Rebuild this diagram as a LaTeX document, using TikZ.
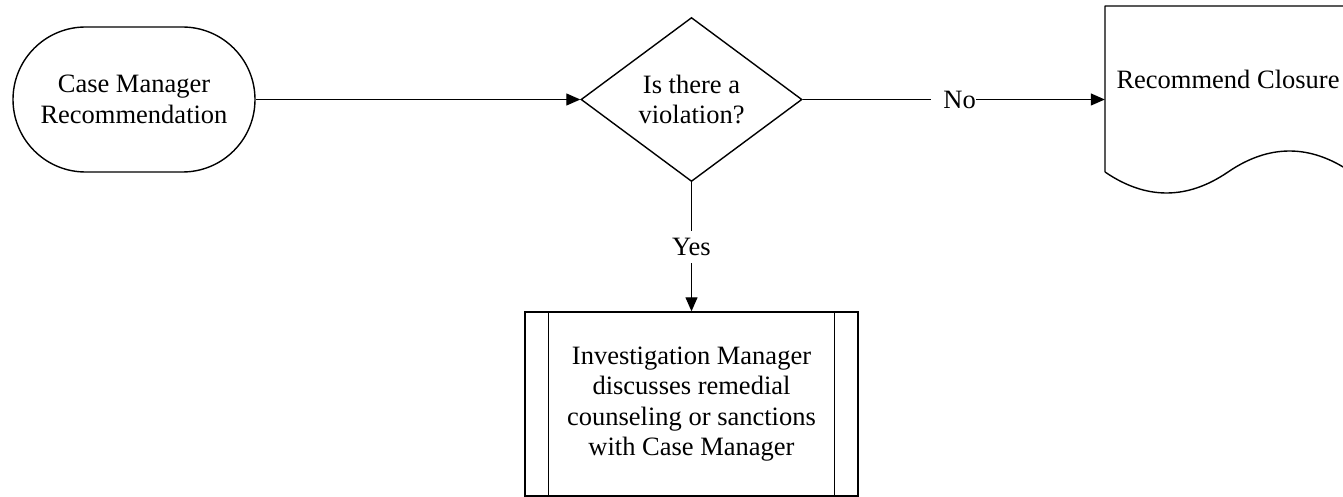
\documentclass[tikz,border=0pt]{standalone}
\usepackage{fontspec}
\setmainfont{Liberation Serif}
\usetikzlibrary{shapes.geometric,shapes.misc,arrows.meta}
\begin{document}
\begin{tikzpicture}[x=1pt,y=-1pt,
  every node/.style={font=\fontsize{26.5}{30.5}\selectfont, align=center},
  shapeline/.style={draw=black, line width=1.4pt},
  flow/.style={line width=1.2pt, -{Triangle[length=14pt,width=12pt]}},
  plain/.style={line width=1.2pt},
  term/.style={shapeline, rounded rectangle, minimum width=242pt, minimum height=145pt, inner sep=0pt},
  decision/.style={shapeline, diamond, aspect=1.35, minimum width=221pt, minimum height=164pt, inner sep=0pt},
  predef/.style={shapeline, rectangle, minimum width=333pt, minimum height=184pt, inner sep=0pt},
  lbl/.style={fill=white, inner ysep=7pt}
]
\useasboundingbox (0,0) rectangle (1343,497);

\node[term] (start) at (134,99.5) {Case Manager\\Recommendation};
\node[decision] (dia) at (691.5,99.5) {Is there a\\violation?};
\node[predef] (proc) at (691.5,404) {Investigation Manager\\discusses remedial\\counseling or sanctions\\with Case Manager};
\draw[shapeline] ([xshift=24pt]proc.north west) -- ([xshift=24pt]proc.south west);
\draw[shapeline] ([xshift=-24pt]proc.north east) -- ([xshift=-24pt]proc.south east);

% document shape
\node[minimum width=246pt, inner sep=0pt] (doc) at (1228,79) {Recommend Closure};
\draw[shapeline, line join=round] (1105,172) -- (1105,6) -- (1351,6) -- (1351,172)
  .. controls (1310,144) and (1269,144) .. (1228,172)
  .. controls (1187,200) and (1146,200) .. (1105,172);

% connectors
\draw[flow] (start.east) -- (dia.west);
\node[inner xsep=0pt, inner ysep=2pt, anchor=east] (no) at (976,99.5) {No};
\draw[plain] (dia.east) -- ([xshift=-12pt]dia.east -| no.west);
\draw[flow] (dia.east -| no.east) -- (dia.east -| doc.west);
\draw[flow] (dia.south) -- node[lbl, inner xsep=1pt] (yes) {Yes} (proc.north);
\end{tikzpicture}
\end{document}
